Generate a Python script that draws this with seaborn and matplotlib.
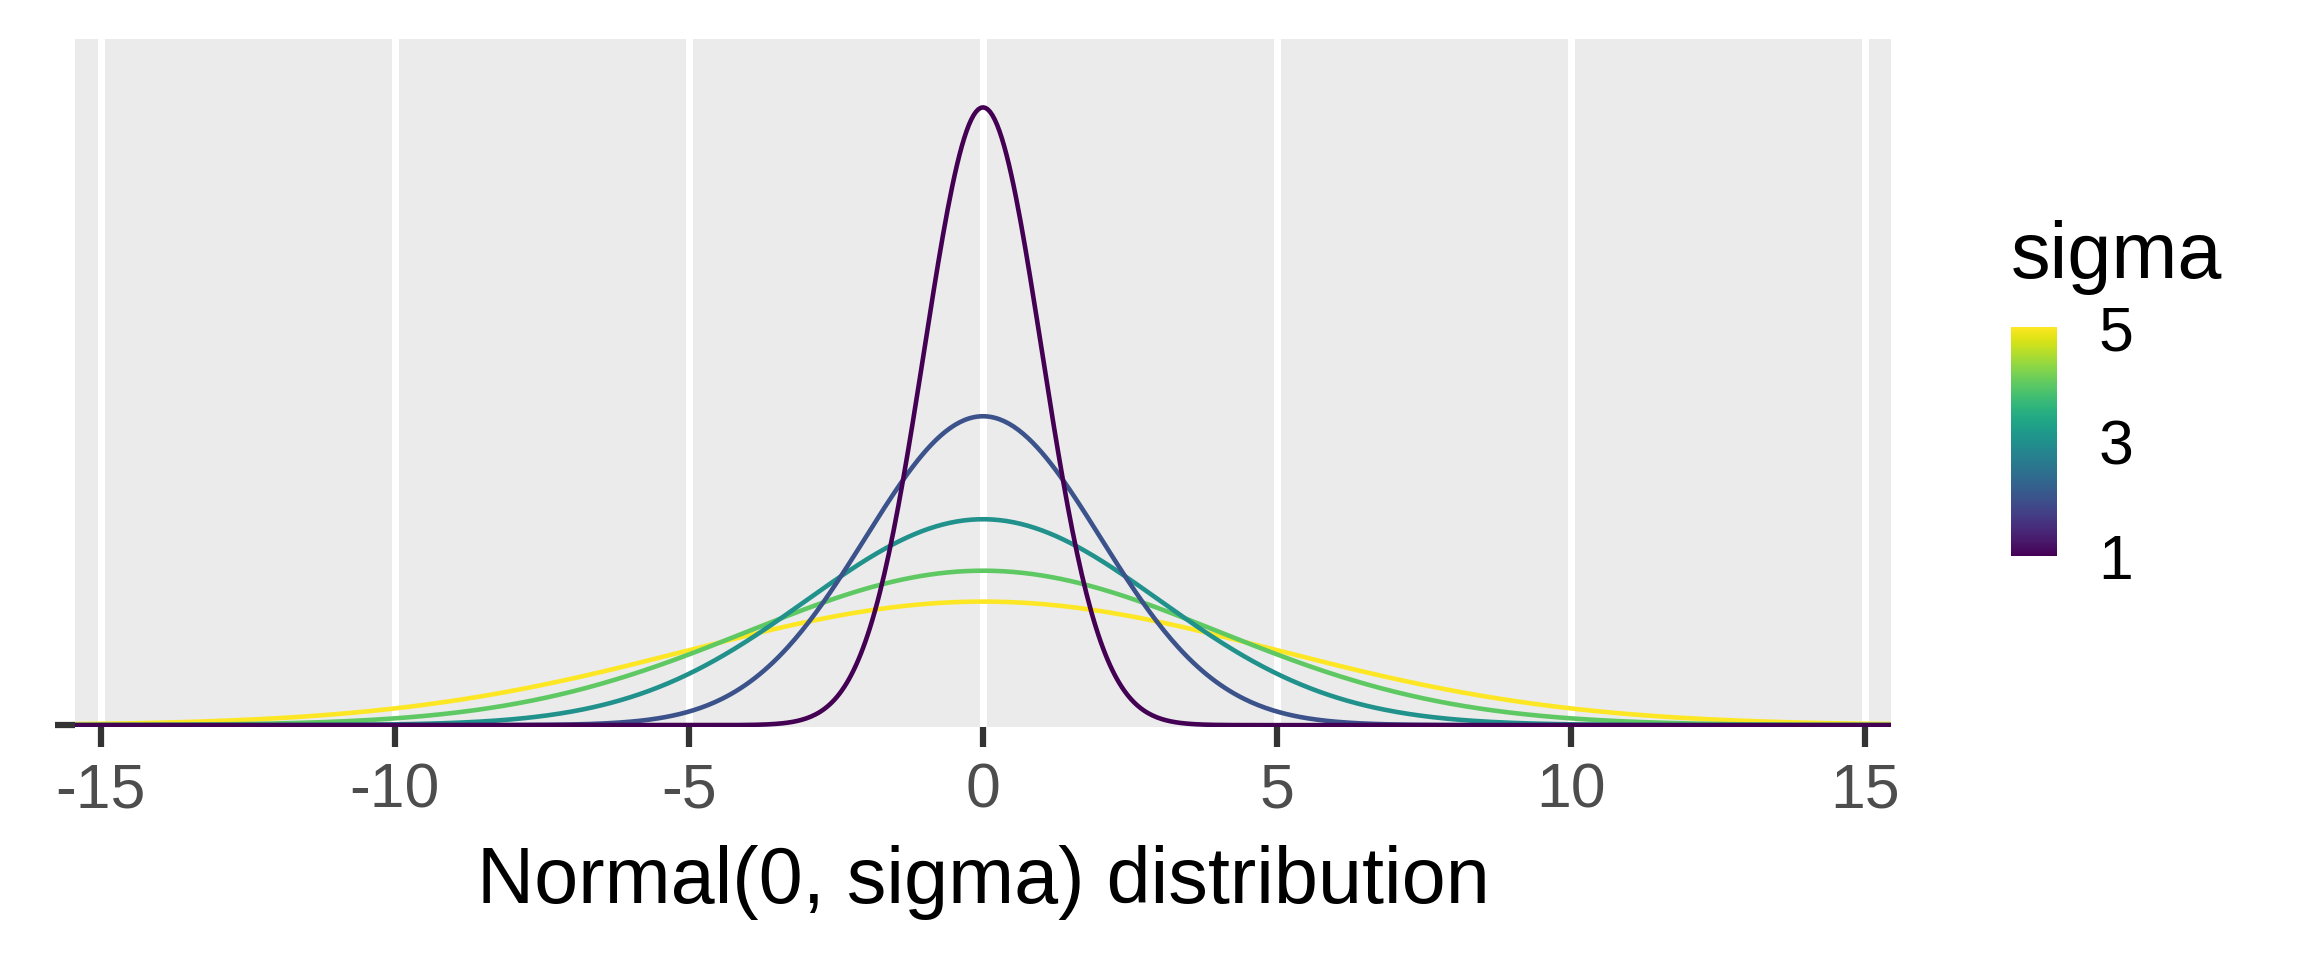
import numpy as np
import pandas as pd
import seaborn as sns
import matplotlib
matplotlib.use("Agg")
import matplotlib.pyplot as plt
from matplotlib.cm import ScalarMappable
from matplotlib.colors import Normalize

# sigma values of the Normal(0, sigma) curves
sigmas = [1, 2, 3, 4, 5]
x_ticks = [-15, -10, -5, 0, 5, 10, 15]
legend_ticks = [1, 3, 5]

x = np.linspace(-16, 16, 801)
rows = []
for s in sigmas:
    dens = np.exp(-0.5 * (x / s) ** 2) / (s * np.sqrt(2 * np.pi))
    rows.append(pd.DataFrame({"x": x, "density": dens, "sigma": s}))
df = pd.concat(rows, ignore_index=True)

sns.set_theme(style="darkgrid")
plt.rcParams["font.family"] = ["Liberation Sans", "DejaVu Sans"]
plt.rcParams["axes.unicode_minus"] = False

fig = plt.figure(figsize=(7.68, 3.2), dpi=300)
ax = fig.add_axes([75 / 2304, 1 - 727 / 960, (1891 - 75) / 2304, (727 - 39) / 960])
ax.set_facecolor("#EBEBEB")

sns.lineplot(data=df, x="x", y="density", hue="sigma", palette="viridis",
             hue_norm=(1, 5), estimator=None, legend=False, linewidth=1.1, ax=ax)
# small sigma drawn on top
for i, line in enumerate(ax.lines):
    line.set_zorder(3 - i * 0.1)

ax.set_xlim(-15.44, 15.44)
ax.set_ylim(-0.0012, 0.4431)
ax.set_xticks(x_ticks)
ax.set_xticklabels([str(t) for t in x_ticks])
ax.set_yticks([0])
ax.set_yticklabels([""])
ax.grid(False)
for t in x_ticks:
    ax.axvline(t, color="white", linewidth=1.68, zorder=0.5)
for sp in ax.spines.values():
    sp.set_visible(False)

ax.tick_params(axis="both", which="major", length=4.8, width=1.5, color="#333333",
               labelsize=15, labelcolor="#4D4D4D", pad=3.5, bottom=True, left=True)
ax.set_ylabel("")
ax.set_xlabel("Normal(0, sigma) distribution", fontsize=19, color="black", va="baseline")
ax.xaxis.set_label_coords(0.5, (727 - 903) / 688)

# colourbar legend
cax = fig.add_axes([2011 / 2304, 1 - 556 / 960, 46 / 2304, 229 / 960])
sm = ScalarMappable(norm=Normalize(1, 5), cmap="viridis")
cb = fig.colorbar(sm, cax=cax, ticks=legend_ticks)
cb.outline.set_visible(False)
cax.tick_params(axis="y", direction="in", length=2.2, width=0.5, color="white",
                left=True, right=True, labelleft=False, labelright=True,
                labelsize=15, labelcolor="black", pad=10)
fig.text(2011 / 2304, 1 - 278 / 960, "sigma", fontsize=19, color="black",
         va="baseline", ha="left")

fig.savefig("out.png", dpi=300)
